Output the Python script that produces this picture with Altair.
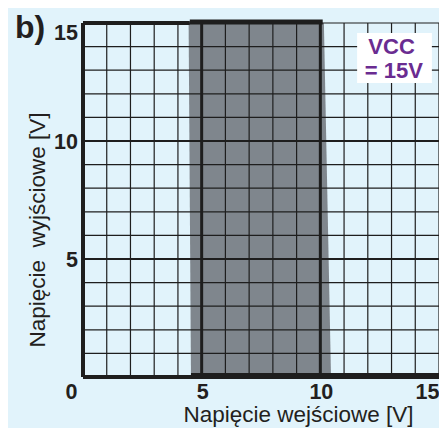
import altair as alt
import pandas as pd

# ---- data ----
x_ticks = [0, 5, 10, 15]
y_ticks = [5, 10, 15]
grid_minor = [1, 2, 3, 4, 6, 7, 8, 9, 11, 12, 13, 14, 15]
grid_major = [5, 10]
axis_min, axis_max = 0, 15

# hysteresis zone (slightly trapezoidal grey band)
zone_y = [0, 15]
zone_x_left = [4.55, 4.45]
zone_x_right = [10.45, 10.15]

# transfer characteristic (thick black lines)
low_x1 = [0, 4.55]
low_x2 = [4.55, 15]
high_x1 = [0, 4.5]
high_x2 = [4.5, 10.1]
switch_x = [5, 10]

# VCC note
box_x1, box_x2 = [11.55], [14.7]
box_y1, box_y2 = [12.46], [14.58]
note_text = ["VCC", "= 15V"]
note_x = [13.0, 13.1]
note_y = [13.98, 12.97]

# panel tag
tag_text = ["b)"]
tag_x = [-2.87]
tag_y = [14.38]

x_title = "Napięcie wejściowe [V]"
y_title = "Napięcie \u00a0wyjściowe [V]"

FONT = "Liberation Sans"
INK = "#231F20"
LINE = "#1E1E1E"
BG = "#E1F3FB"
GREY = "#7F868D"
PURPLE = "#6A2C91"

xs = alt.Scale(domain=[0, 15], nice=False, zero=False)
ys = alt.Scale(domain=[0, 15], nice=False, zero=False)


def X(f):
    return alt.X(f, scale=xs, axis=None)


def Y(f):
    return alt.Y(f, scale=ys, axis=None)


zone = pd.DataFrame({"y": zone_y, "xl": zone_x_left, "xr": zone_x_right})
area = alt.Chart(zone).mark_area(orient="horizontal", color=GREY, opacity=1).encode(
    y=Y("y:Q"), x=X("xl:Q"), x2="xr:Q")

gmin = pd.DataFrame({"g": grid_minor, "a": axis_min, "b": axis_max})
gmaj = pd.DataFrame({"g": grid_major, "a": axis_min, "b": axis_max})
vmin = alt.Chart(gmin).mark_rule(color=LINE, strokeWidth=1.2).encode(
    x=X("g:Q"), y=Y("a:Q"), y2="b:Q")
hmin = alt.Chart(gmin).mark_rule(color=LINE, strokeWidth=1.2).encode(
    y=Y("g:Q"), x=X("a:Q"), x2="b:Q")
hmaj = alt.Chart(gmaj).mark_rule(color=LINE, strokeWidth=2.2).encode(
    y=Y("g:Q"), x=X("a:Q"), x2="b:Q")

sw = pd.DataFrame({"x": switch_x, "a": axis_min, "b": axis_max})
switch = alt.Chart(sw).mark_rule(color=LINE, strokeWidth=3).encode(
    x=X("x:Q"), y=Y("a:Q"), y2="b:Q")

la = pd.DataFrame({"x": [axis_min], "a": [axis_min], "b": [axis_max]})
left_axis = alt.Chart(la).mark_rule(color=LINE, strokeWidth=4).encode(
    x=X("x:Q"), y=Y("a:Q"), y2="b:Q")

low = pd.DataFrame({"x1": low_x1, "x2": low_x2, "y": axis_min})
low_a = alt.Chart(low.iloc[[0]]).mark_rule(color=LINE, strokeWidth=4).encode(
    x=X("x1:Q"), x2="x2:Q", y=Y("y:Q"))
low_b = alt.Chart(low.iloc[[1]]).mark_rule(color=LINE, strokeWidth=6, yOffset=-1).encode(
    x=X("x1:Q"), x2="x2:Q", y=Y("y:Q"))

high = pd.DataFrame({"x1": high_x1, "x2": high_x2, "y": axis_max})
high_a = alt.Chart(high.iloc[[0]]).mark_rule(color=LINE, strokeWidth=4).encode(
    x=X("x1:Q"), x2="x2:Q", y=Y("y:Q"))
high_b = alt.Chart(high.iloc[[1]]).mark_rule(color=LINE, strokeWidth=5, yOffset=-1).encode(
    x=X("x1:Q"), x2="x2:Q", y=Y("y:Q"))

box = alt.Chart(pd.DataFrame({"x1": box_x1, "x2": box_x2, "y1": box_y1, "y2": box_y2})).mark_rect(
    color="white").encode(x=X("x1:Q"), x2="x2:Q", y=Y("y1:Q"), y2="y2:Q")

note = alt.Chart(pd.DataFrame({"t": note_text, "x": note_x, "y": note_y})).mark_text(
    font=FONT, fontSize=22, fontWeight="bold", color=PURPLE, align="center", baseline="middle").encode(
    x=X("x:Q"), y=Y("y:Q"), text="t:N")

tag = alt.Chart(pd.DataFrame({"t": tag_text, "x": tag_x, "y": tag_y})).mark_text(
    font=FONT, fontSize=32, fontWeight="bold", color=INK, align="left", baseline="alphabetic").encode(
    x=X("x:Q"), y=Y("y:Q"), text="t:N")

# ---- tick labels ----
xt = pd.DataFrame({"v": x_ticks, "y": axis_min})
xt_ends = alt.Chart(xt).transform_filter("datum.v == 0 || datum.v == 15").mark_text(
    font=FONT, fontSize=21.5, fontWeight="bold", color=INK, align="center",
    baseline="alphabetic", dx=-11.5, dy=22).encode(x=X("v:Q"), y=Y("y:Q"), text="v:Q")
xt_mid = alt.Chart(xt).transform_filter("datum.v != 0 && datum.v != 15").mark_text(
    font=FONT, fontSize=21.5, fontWeight="bold", color=INK, align="center",
    baseline="alphabetic", dx=1, dy=22).encode(x=X("v:Q"), y=Y("y:Q"), text="v:Q")

yt = pd.DataFrame({"v": y_ticks, "x": axis_min})
yt_top = alt.Chart(yt).transform_filter("datum.v == 15").mark_text(
    font=FONT, fontSize=21.5, fontWeight="bold", color=INK, align="right",
    baseline="alphabetic", dx=-5, dy=17).encode(y=Y("v:Q"), x=X("x:Q"), text="v:Q")
yt_rest = alt.Chart(yt).transform_filter("datum.v != 15").mark_text(
    font=FONT, fontSize=21.5, fontWeight="bold", color=INK, align="right",
    baseline="alphabetic", dx=-5, dy=8).encode(y=Y("v:Q"), x=X("x:Q"), text="v:Q")

# ---- axis titles ----
xtitle = alt.Chart(pd.DataFrame({"t": [x_title], "x": [9.08], "y": [axis_min]})).mark_text(
    font=FONT, fontSize=22.5, color=INK, align="center", baseline="alphabetic", dy=45).encode(
    x=X("x:Q"), y=Y("y:Q"), text="t:N")
ytitle = alt.Chart(pd.DataFrame({"t": [y_title], "x": [-1.60], "y": [6.23]})).mark_text(
    font=FONT, fontSize=22.5, color=INK, align="center", baseline="alphabetic", angle=270).encode(
    x=X("x:Q"), y=Y("y:Q"), text="t:N")

chart = alt.layer(
    area, vmin, hmin, hmaj, switch, left_axis, low_a, low_b, high_a, high_b, box, note, tag,
    xt_ends, xt_mid, yt_top, yt_rest, xtitle, ytitle
).properties(
    width=356, height=354,
    autosize=alt.AutoSizeParams(type="none"),
    padding={"left": 75, "top": 15, "right": 0, "bottom": 51},
    background=BG,
).configure_view(stroke=None, fill=None)

chart.save("out.html", embed_options={"renderer": "svg", "actions": False})
